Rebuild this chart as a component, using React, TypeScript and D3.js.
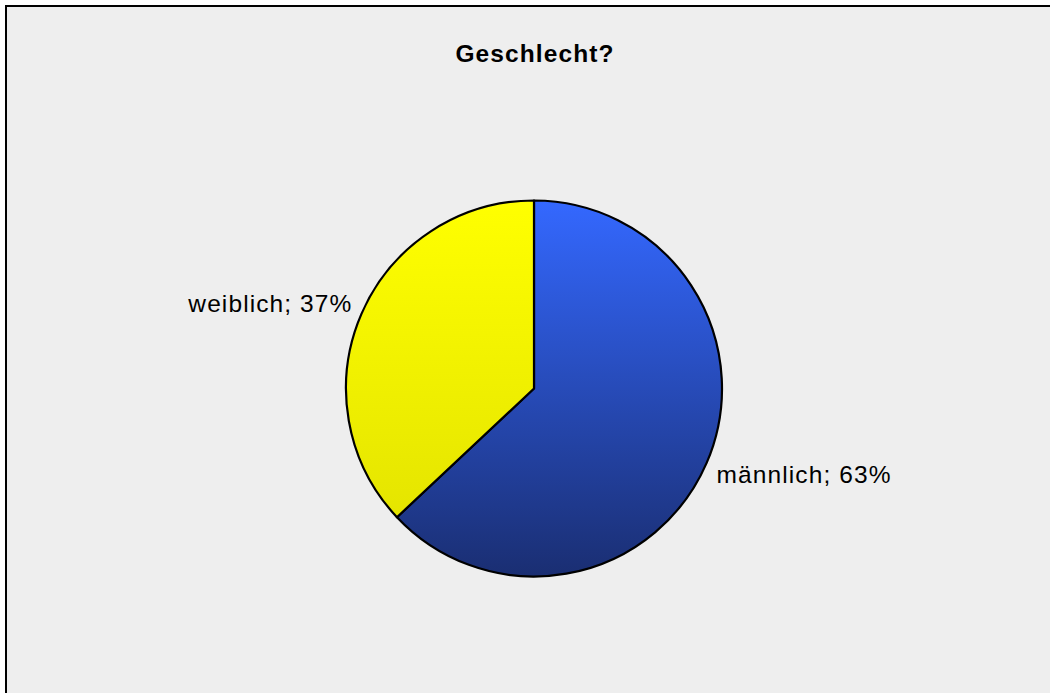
import React from "react";
import * as d3 from "d3";

const categories = ["männlich", "weiblich"];
const values = [63, 37];
const title = "Geschlecht?";

const W = 1050;
const H = 693;

export default function App() {
  const cx = 534;
  const cy = 388.5;
  const r = 188;
  const pie = d3.pie<number>().sort(null).value((d) => d);
  const arcs = pie(values);
  const arcGen = d3.arc<d3.PieArcDatum<number>>().innerRadius(0).outerRadius(r);
  const total = d3.sum(values);
  const fills = ["url(#gBlue)", "url(#gYellow)"];
  const font = "'Liberation Sans', Arial, sans-serif";

  return (
    <div style={{ position: "absolute", left: 0, top: 0 }}>
      <svg width={W} height={H} style={{ display: "block" }}>
        <defs>
          <linearGradient id="gBlue" gradientUnits="userSpaceOnUse" x1={0} y1={-r} x2={0} y2={r}>
            <stop offset="0" stopColor="#3468ff" />
            <stop offset="1" stopColor="#1a2e72" />
          </linearGradient>
          <linearGradient id="gYellow" gradientUnits="userSpaceOnUse" x1={0} y1={-r} x2={0} y2={r}>
            <stop offset="0" stopColor="#ffff00" />
            <stop offset="1" stopColor="#e0e000" />
          </linearGradient>
        </defs>
        <rect x={0} y={0} width={W} height={H} fill="#ffffff" />
        <rect x={6} y={6} width={W + 20} height={H + 20} fill="#eeeeee" stroke="#000" strokeWidth={2} />
        <text
          x={535}
          y={62}
          textAnchor="middle"
          fontFamily={font}
          fontWeight="bold"
          fontSize={24.5}
          letterSpacing={1.1}
          fill="#000"
        >
          {title}
        </text>
        <g transform={`translate(${cx},${cy})`}>
          {arcs.map((a, i) => (
            <path key={i} d={arcGen(a) || ""} fill={fills[i]} stroke="#000" strokeWidth={2.2} strokeLinejoin="round" />
          ))}
          {arcs.map((a, i) => {
            const mid = (a.startAngle + a.endAngle) / 2;
            const rr = r + 12;
            const x = Math.sin(mid) * rr;
            const y = -Math.cos(mid) * rr;
            const anchor = x >= 0 ? "start" : "end";
            const base = y + 16 * (0.5 - Math.cos(mid) * 1.2) + (x >= 0 ? -1 : 3);
            const pct = Math.round((values[i] / total) * 100);
            return (
              <text
                key={"l" + i}
                x={x >= 0 ? x - 1 : x + 2}
                y={base}
                textAnchor={anchor}
                fontFamily={font}
                fontSize={24.5}
                letterSpacing={1.1}
                fill="#000"
              >
                {`${categories[i]}; ${pct}%`}
              </text>
            );
          })}
        </g>
      </svg>
    </div>
  );
}
